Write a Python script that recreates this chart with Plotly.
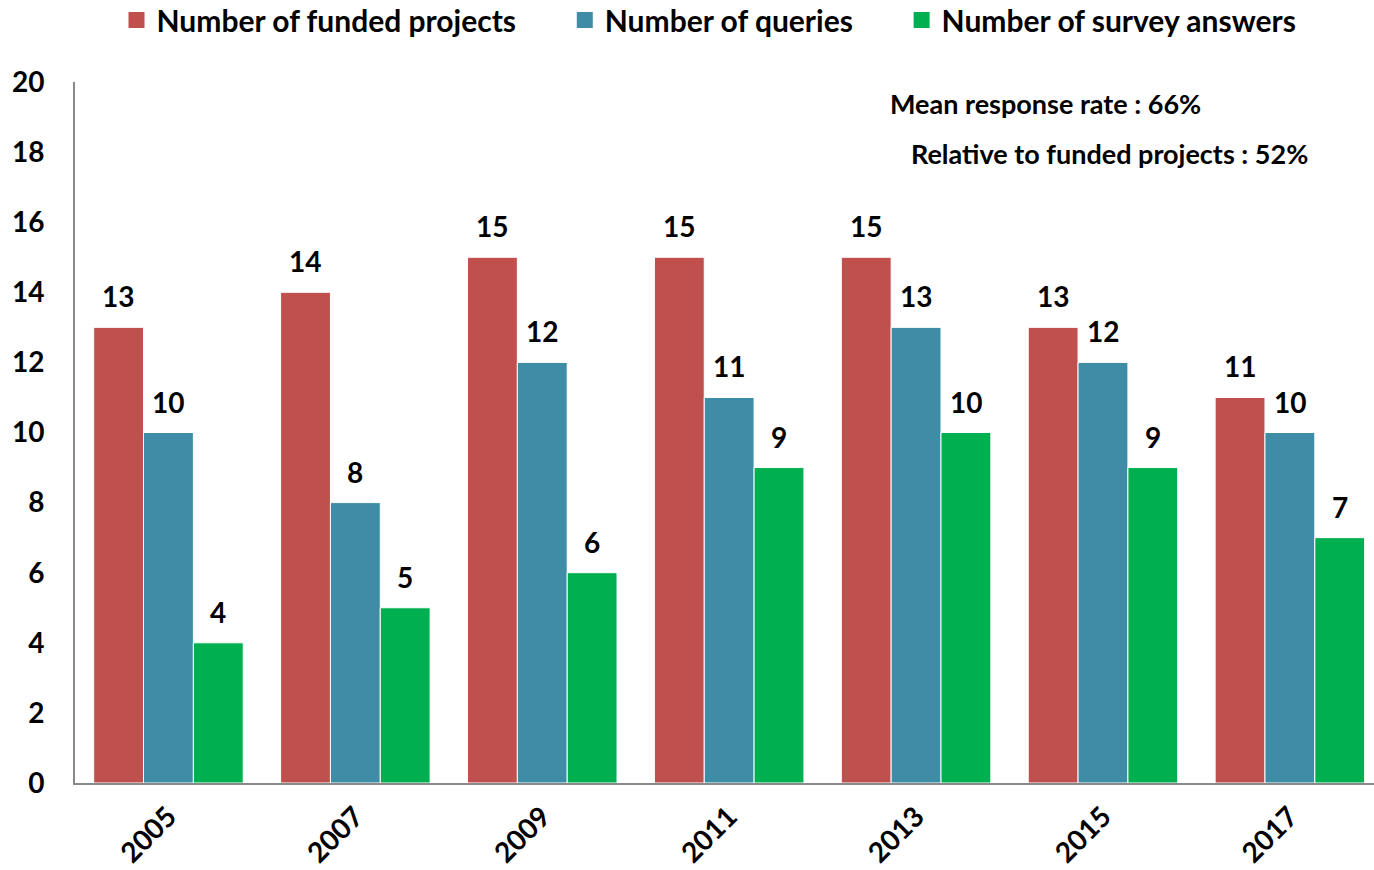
import plotly.graph_objects as go

years = ['2005', '2007', '2009', '2011', '2013', '2015', '2017']
funded = [13, 14, 15, 15, 15, 13, 11]
queries = [10, 8, 12, 11, 13, 12, 10]
answers = [4, 5, 6, 9, 10, 9, 7]

series = [('Number of funded projects', funded, '#C0504D'),
          ('Number of queries', queries, '#3E8CA5'),
          ('Number of survey answers', answers, '#00B050')]

FONT = 'Lato'
NB = '\u00a0'

fig = go.Figure()

for i, (name, vals, color) in enumerate(series):
    fig.add_trace(go.Bar(x=years, y=vals, name=name,
                         marker=dict(color=color, line=dict(color='white', width=1)),
                         showlegend=False))
    # value labels above each bar (x given as category index)
    for j, v in enumerate(vals):
        fig.add_annotation(x=j, y=v, xref='x', yref='y', text=str(v), showarrow=False,
                           xshift=(i - 1) * 50, yshift=12, yanchor='bottom',
                           font=dict(family=FONT, size=28, color='black', weight='bold'))

# legend entries with bigger square markers
pads = [NB * 6, NB * 6, '']
for (name, vals, color), pad in zip(series, pads):
    fig.add_trace(go.Scatter(x=[None], y=[None], mode='markers', name=name + pad,
                             marker=dict(symbol='square', size=19, color=color)))

fig.update_layout(
    width=1374, height=870,
    barmode='group', bargap=0.2, bargroupgap=0,
    plot_bgcolor='white', paper_bgcolor='white',
    margin=dict(l=75, r=0, t=82, b=87),
    font=dict(family=FONT, size=28, color='black', weight='bold'),
    legend=dict(orientation='h', x=(709 - 75) / 1299, xanchor='center', yref='container',
                y=1 - 20 / 870, yanchor='middle',
                font=dict(family=FONT, size=30, color='black', weight='bold'),
                itemwidth=30, tracegroupgap=0),
)

fig.update_xaxes(type='category', range=[-0.5, 6.45], showline=True, linecolor='#898989',
                 linewidth=2, tickangle=-45, ticks='', showgrid=False, automargin=False,
                 tickfont=dict(family=FONT, size=28, weight='bold'), ticklabelstandoff=4)
fig.update_yaxes(range=[0, 20], dtick=2, showline=True, linecolor='#898989', linewidth=2,
                 showgrid=False, zeroline=False, ticks='', automargin=False,
                 tickfont=dict(family=FONT, size=28, weight='bold'), ticklabelstandoff=23)

fig.add_annotation(text='Mean response rate : 66%', xref='paper', yref='paper',
                   x=(1045 - 75) / 1299, y=(783 - 104) / 701, showarrow=False,
                   xanchor='center', yanchor='middle',
                   font=dict(family=FONT, size=27, weight='bold'))
fig.add_annotation(text='Relative to funded projects : 52%', xref='paper', yref='paper',
                   x=(1109 - 75) / 1299, y=(783 - 153) / 701, showarrow=False,
                   xanchor='center', yanchor='middle',
                   font=dict(family=FONT, size=27, weight='bold'))

fig.write_html("out.html", config={'displayModeBar': False},
               post_script="document.body.style.margin='0';")
